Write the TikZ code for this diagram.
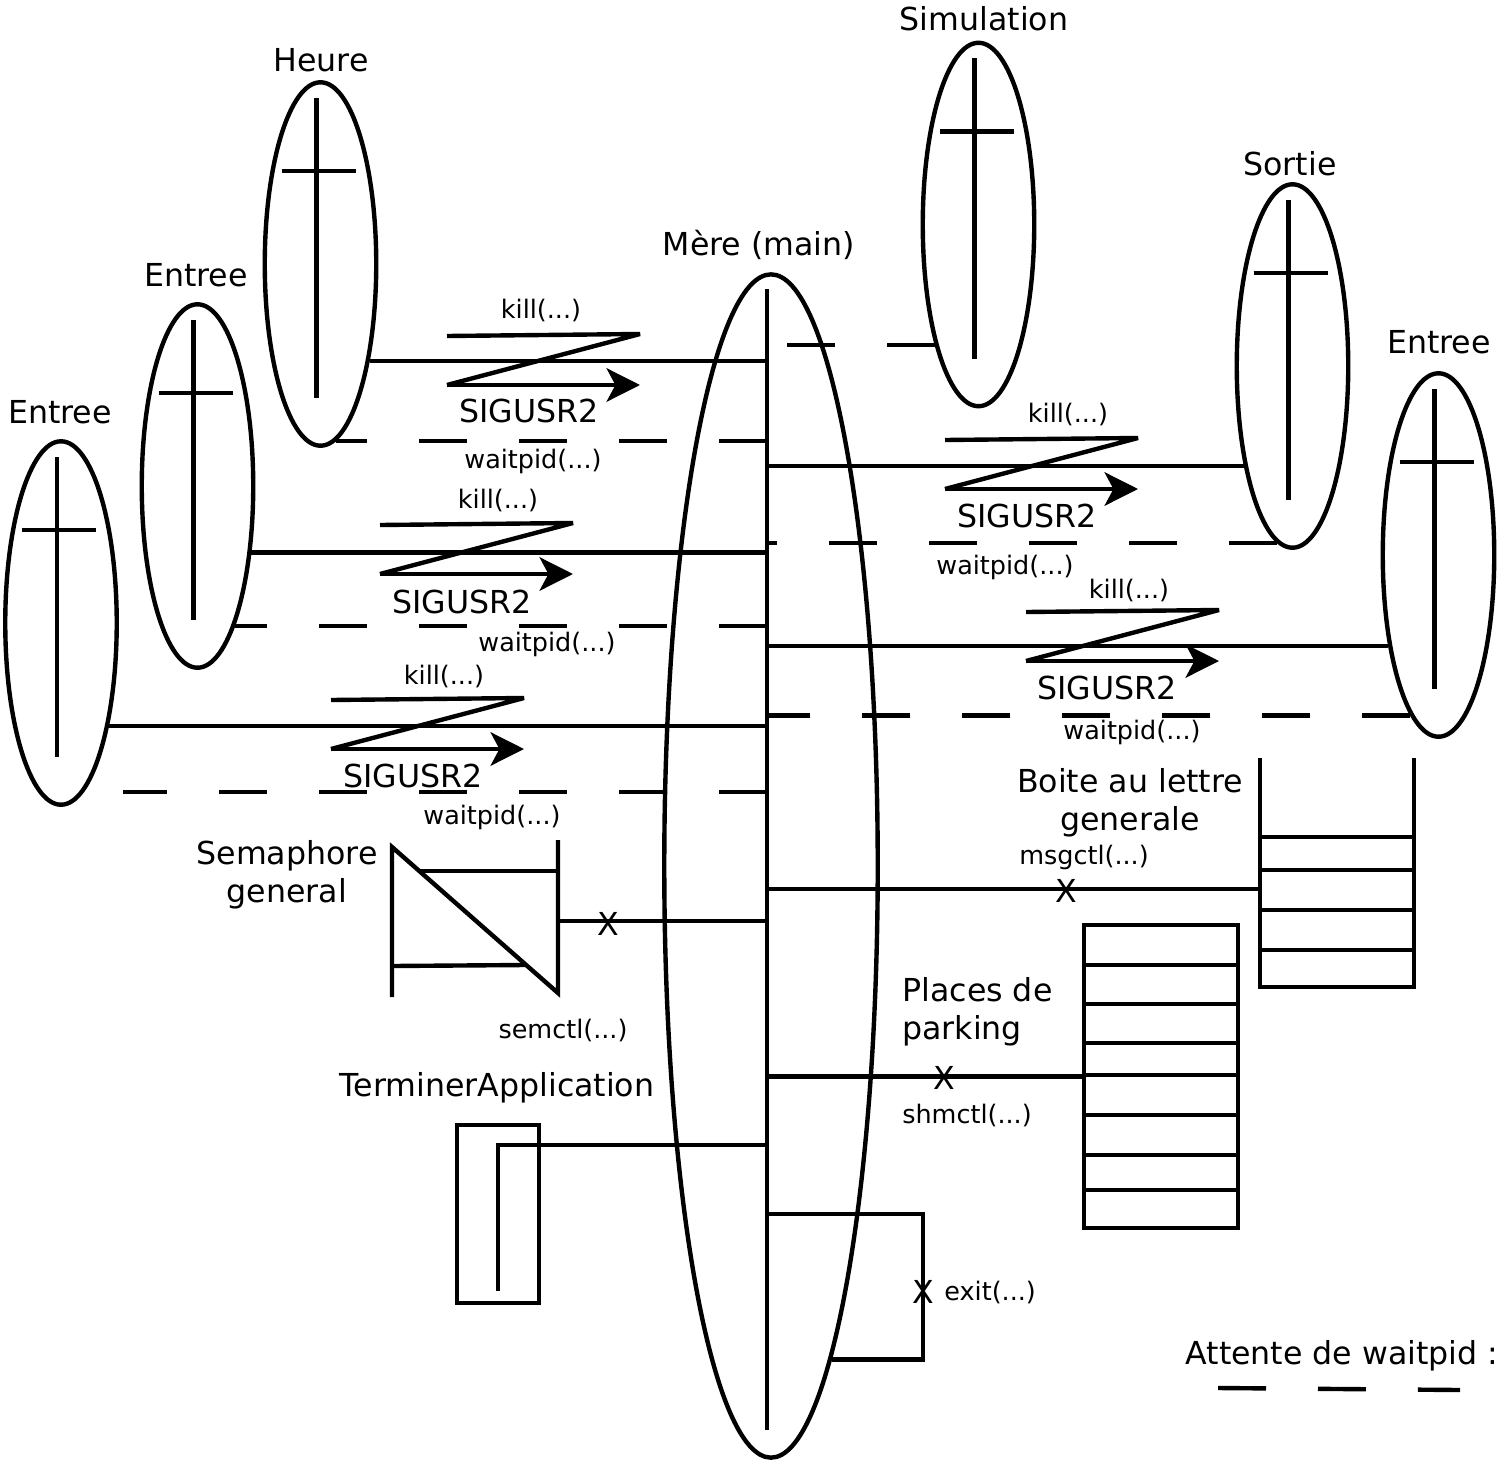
\documentclass[tikz,border=0pt]{standalone}
\usepackage{fontspec}
\setmainfont{DejaVu Sans}
\usetikzlibrary{shapes.geometric, arrows.meta}
\tikzset{
  % Plain black stroke
  wire/.style={line width=2.5pt},
  % waitpid dashes
  waitline/.style={wire, dash pattern=on 0.96cm off 1.04cm},
  % Process ellipse
  proc/.style={
    ellipse, draw, line width=2.5pt,
    inner sep=0pt, minimum width=2.23cm,
    minimum height=7.27cm
  },
  % Signal arrow
  sigarrow/.style={wire, -{Stealth[length=19pt,width=19pt,inset=5pt]}},
  % Texts
  lbl/.style={font=\fontsize{18}{21.6}\selectfont, inner sep=0pt},
  calltext/.style={font=\fontsize{14.5}{17}\selectfont, inner sep=0pt},
  % Z shaped kill() signal
  sigz/.pic={
    \draw[wire, line join=bevel] (0,0) -- (193,-2) -- (0,49);
    \draw[sigarrow] (0,49) -- (193,49);
  }
}

\begin{document}
\begin{tikzpicture}[x=0.02cm, y=-0.02cm]
\useasboundingbox (0,0) rectangle (1500,1463);

% ── processes ───────────────────────────────
\node[proc] (entree_a) at (61,623) {};
\node[proc] (entree_b) at (197.5,486) {};
\node[proc] (heure) at (320.5,264) {};
\node[proc] (simu) at (978.5,224.5) {};
\node[proc] (sortie) at (1292.5,366) {};
\node[proc] (entree_c) at (1438.5,555) {};
\node[proc, minimum width=4.27cm, minimum height=23.67cm] (mere) at (771,866) {};

\foreach \p in {entree_a,entree_b,heure,simu,sortie,entree_c}{
  \draw[wire] ([shift={(-4,-166)}]\p.center) -- ([shift={(-4,134)}]\p.center);
  \draw[wire] ([shift={(-39,-93)}]\p.center) -- ([shift={(35,-93)}]\p.center);
}

\coordinate (ax_top) at (767,289);
\coordinate (ax_bot) at (767,1430);
\draw[wire] (ax_top) -- (ax_bot);

\node[lbl] (lbl_entree_a) at (60,412) {Entree};
\node[lbl] (lbl_entree_b) at (196,275) {Entree};
\node[lbl] (lbl_heure) at (321,60) {Heure};
\node[lbl] (lbl_simu) at (984,19) {Simulation};
\node[lbl] (lbl_sortie) at (1290,164) {Sortie};
\node[lbl] (lbl_entree_c) at (1439,342) {Entree};
\node[lbl] (lbl_mere) at (759,245) {Mère (main)};

% ── Heure ───────────────────────────────────
\draw[wire] (heure.-63) -- (heure.-63 -| ax_top);
\pic at (447,336) {sigz};
\node[calltext] (kill_h) at (541,310) {kill(...)};
\node[lbl] (sig_h) at (529,411) {SIGUSR2};
\draw[waitline] (heure.-85 -| ax_top) -- (heure.-85);
\node[calltext] (wait_h) at (533,461) {waitpid(...)};

% ── Entree (b) ──────────────────────────────
\draw[wire] (entree_b.-51) -- (entree_b.-51 -| ax_top);
\pic at (380,525) {sigz};
\node[calltext] (kill_b) at (498,500) {kill(...)};
\node[lbl] (sig_b) at (462,602) {SIGUSR2};
\draw[waitline] (entree_b.-75 -| ax_top) -- (entree_b.-75);
\node[calltext] (wait_b) at (547,644) {waitpid(...)};

% ── Entree (a) ──────────────────────────────
\draw[wire] (entree_a.-65.5) -- (entree_a.-65.5 -| ax_top);
\pic at (331,700) {sigz};
\node[calltext] (kill_a) at (444,676) {kill(...)};
\node[lbl] (sig_a) at (413,776) {SIGUSR2};
\coordinate (wait_a_end) at (123,792);
\draw[waitline] (wait_a_end -| ax_top) -- (wait_a_end);
\node[calltext] (wait_a) at (492,817) {waitpid(...)};

% ── Simulation ──────────────────────────────
\draw[waitline] (simu.-110) -- (simu.-110 -| ax_top);

% ── Sortie ──────────────────────────────────
\draw[wire] (sortie.-116) -- (sortie.-116 -| ax_top);
\pic at (945,440) {sigz};
\node[calltext] (kill_s) at (1068,414) {kill(...)};
\node[lbl] (sig_s) at (1027,516) {SIGUSR2};
\draw[waitline] (sortie.-95) -- (sortie.-95 -| ax_top);
\node[calltext] (wait_s) at (1005,567) {waitpid(...)};

% ── Entree (c) ──────────────────────────────
\draw[wire] (entree_c.-119) -- (entree_c.-119 -| ax_top);
\pic at (1026,612) {sigz};
\node[calltext] (kill_c) at (1129,590) {kill(...)};
\node[lbl] (sig_c) at (1107,688) {SIGUSR2};
\draw[waitline] (entree_c.-100) -- (entree_c.-100 -| ax_top);
\node[calltext] (wait_c) at (1132,732) {waitpid(...)};

% ── Semaphore general ───────────────────────
\draw[wire] (392,997) -- (392,847) -- (558,993) -- (558,840);
\draw[wire] (420,871) -- (558,871);
\draw[wire] (392,966) -- (525,965);
\coordinate (sem_r) at (558,921);
\draw[wire] (sem_r) -- (sem_r -| ax_top);
\node[lbl] (sem_x) at (608,924) {X};
\node[lbl, align=center] (lbl_sem) at (287,875) {Semaphore\\general};
\node[calltext] (semctl) at (563,1030) {semctl(...)};

% ── Boite au lettre ─────────────────────────
\draw[wire] (1260,758) -- (1260,987) -- (1414,987) -- (1414,758);
\foreach \yy in {837,870,910,950}
  \draw[wire] (1260,\yy) -- (1414,\yy);
\coordinate (boite_l) at (1260,889);
\draw[wire] (boite_l -| ax_top) -- (boite_l);
\node[lbl] (msg_x) at (1066,891) {X};
\node[calltext] (msgctl) at (1084,857) {msgctl(...)};
\node[lbl, align=center] (lbl_boite) at (1130,803) {Boite au lettre\\generale};

% ── Places de parking ───────────────────────
\node[draw, line width=2.5pt, minimum width=3.08cm, minimum height=6.06cm] (places) at (1161,1076.5) {};
\foreach \yy in {965,1004,1043,1075,1115,1155,1190}
  \draw[wire] (1084,\yy) -- (1238,\yy);
\draw[wire] (places.west -| ax_top) -- (places.west);
\node[lbl] (shm_x) at (944,1078) {X};
\node[calltext] (shmctl) at (967,1115) {shmctl(...)};
\node[lbl, align=left, anchor=west] (lbl_places) at (902,1012) {Places de\\parking};

% ── TerminerApplication ─────────────────────
\node[draw, line width=2.5pt, minimum width=1.64cm, minimum height=3.56cm] (termin) at (498,1214) {};
\coordinate (term_top) at (767,1145);
\coordinate (term_end) at (498,1291);
\draw[wire] (term_top) -| (term_end);
\node[lbl] (lbl_termin) at (497,1088) {TerminerApplication};

% ── exit ────────────────────────────────────
\coordinate (exit_top) at (767,1214);
\node[lbl] (exit_x) at (923,1292) {X};
\draw[wire] (exit_top) -| (exit_x.center) |- (mere.-83.2);
\node[calltext, anchor=west] (exitcall) at (944,1292) {exit(...)};

% ── legend ──────────────────────────────────
\node[lbl] (legend) at (1342,1356) {Attente de waitpid :};
\coordinate (leg_a) at (1218,1388);
\coordinate (leg_b) at (1460,1390);
\draw[waitline] (leg_a) -- (leg_b);

\end{tikzpicture}
\end{document}
